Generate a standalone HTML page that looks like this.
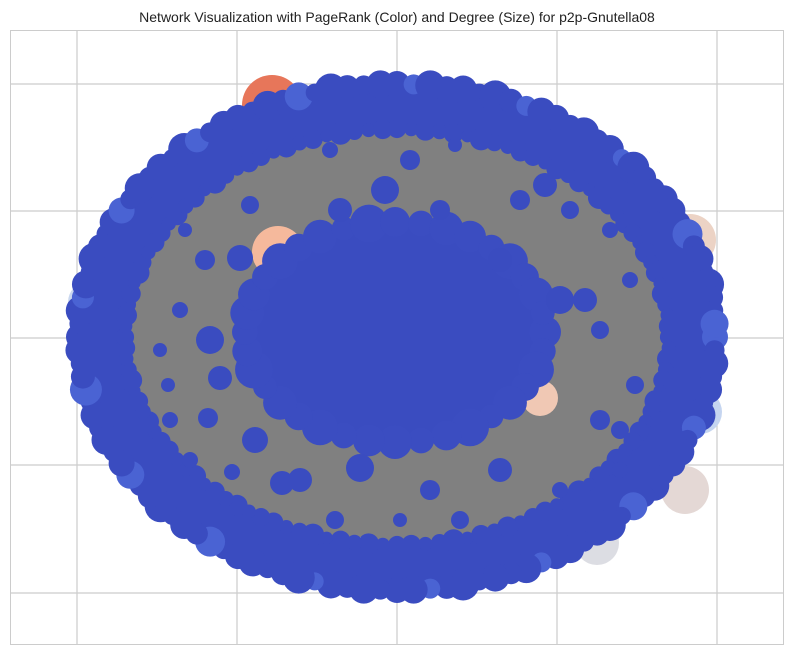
<!DOCTYPE html>
<html><head><meta charset="utf-8"><style>
body{margin:0;background:#fff;width:794px;height:656px;overflow:hidden;font-family:"Liberation Sans",sans-serif}
</style></head><body>
<svg width="794" height="656" viewBox="0 0 794 656">
<text x="397" y="22" text-anchor="middle" font-size="14" fill="#222">Network Visualization with PageRank (Color) and Degree (Size) for p2p-Gnutella08</text>
<rect x="10.5" y="30.5" width="773" height="614" fill="#fff" stroke="#ccc"/>
<g id="grid" stroke="#ccc" stroke-width="1.2"></g>
<g id="net"></g>
</svg>
<script>
const gridX=[77,237,397,557,717];
const gridY=[84,211,338,465,593];
const special=[[272,105,30,"#e7765a"],[278,252,26,"#f5b99c"],[690,240,26,"#ecd3c5"],[597,543,22,"#dcdde3"],[685,490,24,"#e4d8d5"],[88,302,20,"#c9d7ef"],[700,412,22,"#c5d5f0"],[540,398,18,"#f0c8b4"],[360,555,18,"#e8d8d0"],[250,150,16,"#c9d7ef"]];
const inner=[[385,190,14],[340,210,12],[410,160,10],[240,258,13],[210,340,14],[220,378,12],[208,418,10],[300,480,12],[360,468,14],[430,490,10],[500,470,12],[560,300,14],[585,300,12],[600,420,10],[635,385,9],[520,200,10],[545,185,12],[570,210,9],[255,440,13],[282,483,12],[440,210,10],[500,260,12],[205,260,10],[460,520,9],[335,520,9],[610,230,8],[180,310,8],[170,420,8],[620,470,8],[250,205,9],[330,150,8],[455,145,7],[600,330,9],[630,280,8],[185,230,7],[160,350,7],[190,460,8],[560,490,8],[400,520,7],[620,430,9],[168,385,7],[232,472,8]];
const ringSizes=[13,10,15,11,14,9,16,12,10,14];
const g=document.getElementById('grid'),n=document.getElementById('net'),NS="http://www.w3.org/2000/svg";
function mk(p,tag,a){const e=document.createElementNS(NS,tag);for(const k in a)e.setAttribute(k,a[k]);p.appendChild(e);return e;}
gridX.forEach(x=>{const l=mk(g,'line',{x1:x,x2:x,y1:31,y2:644});

});
gridY.forEach(y=>{const l=mk(g,'line',{x1:11,x2:783,y1:y,y2:y});

});
const cx=397,cy=337;
mk(n,'ellipse',{cx,cy,rx:305,ry:240,fill:'#808080'});
special.forEach(s=>{const c=mk(n,'circle',{cx:s[0],cy:s[1],r:s[2],fill:s[3]});

});
const ring=mk(n,'ellipse',{cx,cy:cy,rx:296,ry:232,fill:'none',stroke:'#3a4cc0','stroke-width':50});


for(let i=0;i<120;i++){const t=i/120*2*Math.PI,r=ringSizes[i%10];
mk(n,'circle',{cx:cx+318*Math.cos(t),cy:cy+253*Math.sin(t),r:r,fill:i%7==0?'#4a63d3':'#3a4cc0'});
mk(n,'circle',{cx:cx+272*Math.cos(t),cy:cy+208*Math.sin(t),r:r*0.7,fill:'#3a4cc0'});}
mk(n,'ellipse',{cx:395,cy:332,rx:148,ry:110,fill:'#3a4cc0'});
for(let i=0;i<36;i++){const t=i/36*2*Math.PI,r=ringSizes[i%10]+3;
mk(n,'circle',{cx:395+150*Math.cos(t),cy:332+110*Math.sin(t),r:r,fill:'#3b4dc1'});}
inner.forEach(s=>{const c=mk(n,'circle',{cx:s[0],cy:s[1],r:s[2],fill:'#3a4cc0'});

});
</script>
</body></html>
